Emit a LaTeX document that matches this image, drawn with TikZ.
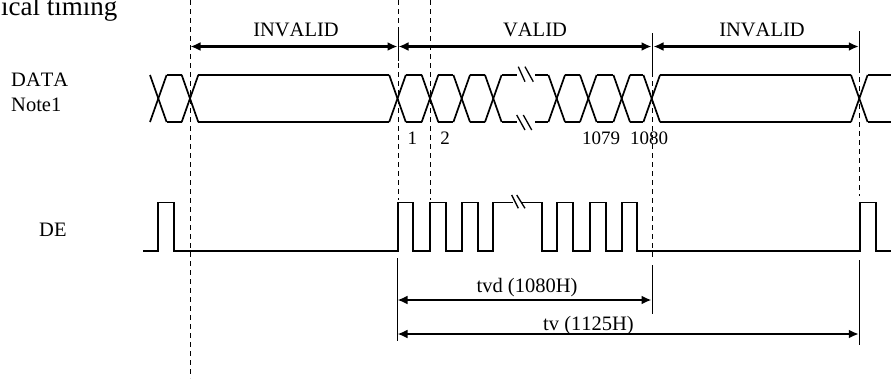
\documentclass[tikz,border=0pt]{standalone}
\usepackage{fontspec}
\setmainfont[Kerning=Off]{Liberation Serif}
\usetikzlibrary{arrows.meta}
\tikzset{
  sig/.style={line width=1.7pt, line join=miter},
  guide/.style={line width=0.9pt, dash pattern=on 5pt off 4pt},
  tick/.style={line width=0.9pt},
  brk/.style={line width=1.3pt},
  dim/.style={line width=2.2pt, {Latex[length=10pt,width=9pt]}-{Latex[length=10pt,width=9pt]}},
  lbl/.style={font=\fontsize{20.5}{24}\selectfont, inner sep=0pt},
  num/.style={font=\fontsize{19}{22}\selectfont, inner sep=0pt},
}
\begin{document}
\begin{tikzpicture}[x=1pt,y=-1pt]
\useasboundingbox (0,0) rectangle (891,378);
% title (cut by the page edge, as in the reference)
\begin{scope}
\clip (0,0) rectangle (891,378);
\node[font=\fontsize{27}{30}\selectfont, inner sep=0pt, anchor=base west] (title) at (1,15) {ical timing};
\end{scope}
% row labels
\node[lbl, anchor=base west] (data) at (11,86.7) {DATA};
\node[lbl, anchor=base west] (note) at (11,111.7) {Note1};
\node[lbl, anchor=base west] (de) at (39,236.7) {DE};

% guide lines
\draw[guide] (190,0) -- (190,378);
\draw[guide] (398,0) -- (398,200);
\draw[guide] (430,0) -- (430,200);
\draw[guide] (652,72) -- (652,258);
\draw[guide] (859.3,68) -- (859.3,196);
% solid ticks
\draw[tick] (398,28) -- (398,61);
\draw[tick] (652,33) -- (652,72);
\draw[tick] (859.3,31) -- (859.3,68);
\draw[tick] (397,258) -- (397,341);
\draw[tick] (652,265) -- (652,314);
\draw[tick] (859.3,260) -- (859.3,345);

% DATA bus
\def\yt{75}\def\yb{122}\def\h{8.3}
\foreach \c in {158.3,190,397.5,430,461.7,493.3,556.7,588.3,621.7,651.7,859.3}{
  \draw[sig] (\c-\h,\yt) -- (\c+\h,\yb);
  \draw[sig] (\c-\h,\yb) -- (\c+\h,\yt);
}
\foreach \a/\b in {166.6/181.7, 198.3/389.2, 405.8/421.7, 438.3/453.4, 470/485, 501.6/516.7, 535/548.4, 565/580, 596.6/613.4, 630/643.4, 660/851, 867.6/891}{
  \draw[sig] (\a,\yt) -- (\b,\yt);
  \draw[sig] (\a,\yb) -- (\b,\yb);
}
% DATA break marks
\draw[brk] (518.3,66.7) -- (525,81.7);
\draw[brk] (525,66.7) -- (533.3,81.7);
\draw[brk] (516.7,115) -- (525,130);
\draw[brk] (523.3,115) -- (531.7,130);

% DE signal
\def\hi{202.5}\def\lo{251}
\draw[sig] (143.3,\lo) -- (158.3,\lo) -- (158.3,\hi) -- (174,\hi) -- (174,\lo)
  -- (397.7,\lo) -- (397.7,\hi) -- (413.3,\hi) -- (413.3,\lo)
  -- (430,\lo) -- (430,\hi) -- (445.7,\hi) -- (445.7,\lo)
  -- (462,\lo) -- (462,\hi) -- (478,\hi) -- (478,\lo)
  -- (493.3,\lo) -- (493.3,\hi) -- (513,\hi);
\draw[sig] (522,\hi) -- (541.7,\hi) -- (541.7,\lo)
  -- (557.3,\lo) -- (557.3,\hi) -- (572.7,\hi) -- (572.7,\lo)
  -- (590,\lo) -- (590,\hi) -- (605.7,\hi) -- (605.7,\lo)
  -- (621.7,\lo) -- (621.7,\hi) -- (637.3,\hi) -- (637.3,\lo)
  -- (860,\lo) -- (860,\hi) -- (876,\hi) -- (876,\lo) -- (891,\lo);
\draw[brk] (511.7,195) -- (518.3,208.3);
\draw[brk] (516.7,195) -- (525,208.3);

% dimension arrows (top)
\coordinate (i1l) at (190,46.5);
\coordinate (i1r) at (398,46.5);
\coordinate (vl) at (398,46.5);
\coordinate (vr) at (652,46.5);
\coordinate (i2l) at (652,46.5);
\coordinate (i2r) at (859.3,46.5);
\draw[dim] ([xshift=0.5pt]i1l) -- ([xshift=-0.5pt]i1r);
\draw[dim] ([xshift=0.5pt]vl) -- ([xshift=-0.5pt]vr);
\draw[dim] ([xshift=1.5pt]i2l) -- ([xshift=-0.5pt]i2r);
\node[lbl, anchor=base] (tinv1) at (296,36) {INVALID};
\node[lbl, anchor=base] (tval) at (535,36) {VALID};
\node[lbl, anchor=base] (tinv2) at (762,36.5) {INVALID};

% numbers
\node[num, anchor=base] (n1) at (412.3,144) {1};
\node[num, anchor=base] (n2) at (445,144) {2};
\node[num, anchor=base] (n1079) at (601,144) {1079};
\node[num, anchor=base] (n1080) at (649,144) {1080};

% bottom dimension arrows
\coordinate (tvdl) at (397,300);
\coordinate (tvdr) at (652,300);
\coordinate (tvl) at (397,334);
\coordinate (tvr) at (859.3,334);
\draw[dim] ([xshift=0.5pt]tvdl) -- ([xshift=-0.5pt]tvdr);
\draw[dim] ([xshift=0.5pt]tvl) -- ([xshift=-0.5pt]tvr);
\node[lbl, anchor=base] (ttvd) at (527,292) {tvd (1080H)};
\node[lbl, anchor=base] (ttv) at (588.5,330) {tv (1125H)};
\end{tikzpicture}
\end{document}
